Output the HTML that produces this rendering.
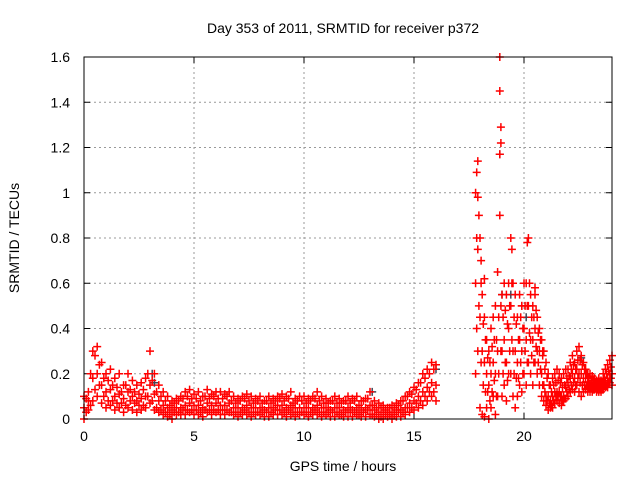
<!DOCTYPE html>
<html><head><meta charset="utf-8"><style>
body{margin:0;background:#fff}
svg{display:block;font-family:"Liberation Sans",sans-serif}
</style></head><body>
<svg id="chart" width="640" height="480" viewBox="0 0 640 480">
<rect width="640" height="480" fill="#fff"/>
<text x="343" y="33" font-size="14" text-anchor="middle">Day 353 of 2011, SRMTID for receiver p372</text>
<text x="343" y="471" font-size="14" text-anchor="middle">GPS time / hours</text>
<text transform="translate(19,238) rotate(-90)" font-size="14" text-anchor="middle">SRMTID / TECUs</text>
<g id="grid"></g>
<g id="ticks"></g>
<g id="marks"></g>
<rect x="84" y="57" width="528" height="362" fill="none" stroke="#000" stroke-width="1"/>
</svg>
<script>
const xTicks=[0,5,10,15,20];
const yTicks=[0,0.2,0.4,0.6,0.8,1,1.2,1.4,1.6];
const yTickLabels=["0","0.2","0.4","0.6","0.8","1","1.2","1.4","1.6"];
const quietTimes=[0,0.2,0.4,0.6,0.8,1,1.2,1.4,1.6,1.8,2,2.2,2.4,2.6,2.8,3,3.2,3.4,3.6,3.8,4,4.2,4.4,4.6,4.8,5,5.2,5.4,5.6,5.8,6,6.2,6.4,6.6,6.8,7,7.2,7.4,7.6,7.8,8,8.2,8.4,8.6,8.8,9,9.2,9.4,9.6,9.8,10,10.2,10.4,10.6,10.8,11,11.2,11.4,11.6,11.8,12,12.2,12.4,12.6,12.8,13,13.2,13.4,13.6,13.8,14,14.2,14.4,14.6,14.8,15,15.2,15.4,15.6,15.8,16];
const quietHi=[0.1,0.12,0.3,0.32,0.25,0.2,0.22,0.18,0.2,0.15,0.2,0.17,0.15,0.16,0.18,0.3,0.2,0.15,0.12,0.1,0.08,0.09,0.1,0.12,0.13,0.11,0.12,0.1,0.13,0.11,0.12,0.12,0.11,0.12,0.1,0.09,0.1,0.11,0.1,0.09,0.1,0.08,0.1,0.09,0.1,0.11,0.1,0.12,0.09,0.1,0.1,0.09,0.1,0.12,0.1,0.09,0.08,0.1,0.09,0.08,0.1,0.09,0.1,0.08,0.09,0.12,0.08,0.07,0.06,0.05,0.06,0.07,0.08,0.1,0.12,0.14,0.16,0.2,0.22,0.25,0.24];
const quietMid=[0.05,0.08,0.18,0.2,0.15,0.12,0.13,0.1,0.11,0.09,0.12,0.1,0.08,0.09,0.1,0.15,0.11,0.08,0.06,0.05,0.04,0.05,0.05,0.06,0.07,0.06,0.06,0.05,0.07,0.06,0.07,0.06,0.06,0.07,0.05,0.05,0.05,0.06,0.05,0.05,0.05,0.04,0.05,0.05,0.06,0.06,0.05,0.06,0.05,0.05,0.05,0.05,0.05,0.06,0.05,0.05,0.04,0.05,0.05,0.04,0.05,0.04,0.05,0.04,0.05,0.06,0.04,0.03,0.03,0.03,0.03,0.04,0.04,0.05,0.07,0.08,0.1,0.12,0.14,0.16,0.15];
const quietLo=[0,0.04,0.08,0.1,0.07,0.05,0.06,0.04,0.05,0.03,0.05,0.04,0.03,0.04,0.05,0.07,0.04,0.03,0.02,0.01,0,0.02,0.02,0.02,0.03,0.02,0.02,0.01,0.03,0.02,0.03,0.02,0.02,0.03,0.02,0.01,0.02,0.02,0.01,0.02,0.02,0.01,0.01,0.02,0.02,0.02,0.01,0.02,0.01,0.02,0.02,0.01,0.02,0.02,0.01,0.02,0.01,0.01,0.02,0.01,0.01,0.01,0.02,0.01,0.01,0.02,0.01,0,0,0.01,0,0.01,0.01,0.02,0.03,0.04,0.05,0.06,0.08,0.1,0.08];
const quietTimes2=[0.1,0.3,0.5,0.7,0.9,1.1,1.3,1.5,1.7,1.9,2.1,2.3,2.5,2.7,2.9,3.1,3.3,3.5,3.7,3.9,4.1,4.3,4.5,4.7,4.9,5.1,5.3,5.5,5.7,5.9,6.1,6.3,6.5,6.7,6.9,7.1,7.3,7.5,7.7,7.9,8.1,8.3,8.5,8.7,8.9,9.1,9.3,9.5,9.7,9.9,10.1,10.3,10.5,10.7,10.9,11.1,11.3,11.5,11.7,11.9,12.1,12.3,12.5,12.7,12.9,13.1,13.3,13.5,13.7,13.9,14.1,14.3,14.5,14.7,14.9,15.1,15.3,15.5,15.7,15.9];
const quietA2=[0.09,0.2,0.28,0.24,0.18,0.17,0.15,0.14,0.12,0.15,0.13,0.12,0.11,0.13,0.2,0.17,0.12,0.1,0.08,0.06,0.07,0.08,0.09,0.1,0.09,0.09,0.08,0.1,0.09,0.1,0.09,0.09,0.1,0.08,0.07,0.08,0.09,0.08,0.07,0.08,0.07,0.08,0.07,0.08,0.09,0.08,0.09,0.07,0.08,0.08,0.07,0.08,0.09,0.08,0.07,0.07,0.08,0.07,0.07,0.08,0.07,0.08,0.06,0.08,0.09,0.06,0.05,0.05,0.04,0.05,0.05,0.06,0.08,0.1,0.11,0.13,0.16,0.18,0.2,0.22];
const quietB2=[0.03,0.06,0.13,0.15,0.1,0.08,0.08,0.07,0.07,0.06,0.08,0.07,0.06,0.06,0.1,0.08,0.05,0.04,0.03,0.02,0.03,0.03,0.04,0.04,0.04,0.04,0.03,0.04,0.04,0.04,0.04,0.04,0.04,0.03,0.03,0.03,0.04,0.03,0.03,0.03,0.03,0.03,0.03,0.04,0.04,0.03,0.04,0.03,0.03,0.03,0.03,0.03,0.04,0.03,0.03,0.03,0.03,0.03,0.02,0.03,0.03,0.03,0.02,0.03,0.04,0.02,0.02,0.01,0.02,0.02,0.02,0.03,0.03,0.05,0.05,0.07,0.08,0.1,0.12,0.12];
const stormTimes=[17.8,17.9,18,18.1,18.2,18.3,18.4,18.5,18.6,18.7,18.8,18.9,19,19.1,19.2,19.3,19.4,19.5,19.6,19.7,19.8,19.9,20,20.1,20.2,20.3,20.4,20.5,20.6,20.7,20.8,20.9,21,21.1,21.2,21.3,21.4,21.5,21.6,21.7,21.8,21.9,22,22.1,22.2,22.3,22.4,22.5,22.6,22.7,22.8,22.9,23,23.1,23.2,23.3,23.4,23.5,23.6,23.7,23.8,23.9,24];
const stormHi=[1,1.14,0.8,0.55,0.45,0.35,0.3,0.4,0.45,0.5,0.65,1.6,0.55,0.6,0.55,0.6,0.8,0.6,0.55,0.45,0.55,0.5,0.6,0.6,0.8,0.55,0.5,0.55,0.45,0.4,0.35,0.3,0.25,0.2,0.15,0.18,0.2,0.22,0.2,0.18,0.2,0.22,0.22,0.25,0.28,0.25,0.3,0.32,0.28,0.25,0.22,0.2,0.2,0.19,0.18,0.17,0.18,0.17,0.2,0.22,0.24,0.26,0.28];
const stormMid=[0.6,0.75,0.45,0.3,0.25,0.2,0.15,0.2,0.25,0.2,0.3,1.45,0.3,0.35,0.25,0.4,0.5,0.3,0.3,0.25,0.35,0.3,0.4,0.35,0.5,0.35,0.35,0.4,0.3,0.3,0.2,0.15,0.1,0.1,0.08,0.1,0.12,0.12,0.12,0.1,0.1,0.14,0.16,0.18,0.2,0.18,0.22,0.2,0.2,0.18,0.18,0.16,0.15,0.15,0.15,0.14,0.15,0.14,0.16,0.17,0.18,0.2,0.2];
const stormLo=[0.2,0.3,0.05,0.02,0.01,0.05,0,0.05,0.1,0.02,0.1,0.9,0.1,0.15,0.08,0.2,0.2,0.1,0.05,0.1,0.15,0.12,0.2,0.15,0.25,0.2,0.15,0.25,0.2,0.15,0.1,0.08,0.06,0.04,0.05,0.05,0.07,0.08,0.07,0.06,0.08,0.09,0.1,0.12,0.13,0.12,0.15,0.12,0.1,0.12,0.13,0.12,0.12,0.12,0.13,0.12,0.12,0.12,0.13,0.14,0.14,0.16,0.15];
const stormTimes2=[17.85,17.95,18.05,18.15,18.25,18.35,18.45,18.55,18.65,18.75,18.85,18.95,19.05,19.15,19.25,19.35,19.45,19.55,19.65,19.75,19.85,19.95,20.05,20.15,20.25,20.35,20.45,20.55,20.65,20.75,20.85,20.95,21.05,21.15,21.25,21.35,21.45,21.55,21.65,21.75,21.85,21.95,22.05,22.15,22.25,22.35,22.45,22.55,22.65,22.75,22.85,22.95,23.05,23.15,23.25,23.35,23.45,23.55,23.65,23.75,23.85,23.95];
const stormA2=[0.8,0.9,0.6,0.42,0.35,0.27,0.25,0.32,0.35,0.35,0.45,0.5,0.45,0.48,0.42,0.5,0.6,0.45,0.42,0.35,0.45,0.4,0.5,0.5,0.6,0.45,0.45,0.48,0.38,0.35,0.28,0.22,0.18,0.15,0.12,0.15,0.16,0.17,0.16,0.14,0.15,0.18,0.19,0.22,0.24,0.22,0.26,0.26,0.24,0.22,0.2,0.18,0.17,0.17,0.16,0.16,0.16,0.16,0.18,0.2,0.21,0.23];
const stormB2=[0.4,0.5,0.25,0.15,0.12,0.12,0.08,0.12,0.17,0.1,0.2,0.3,0.2,0.25,0.17,0.3,0.35,0.2,0.18,0.18,0.25,0.2,0.3,0.25,0.38,0.28,0.25,0.32,0.25,0.22,0.15,0.12,0.08,0.07,0.06,0.08,0.1,0.1,0.1,0.08,0.09,0.12,0.13,0.15,0.16,0.15,0.18,0.16,0.15,0.15,0.15,0.14,0.14,0.13,0.14,0.13,0.13,0.13,0.15,0.15,0.16,0.18];
const outlierTimes=[18.95,18.95,18.9,17.85,17.9,18.05,20.15,20.5,19.45,19.9,18.2,20.85];
const outlierVals=[1.29,1.22,1.17,1.09,0.98,0.7,0.78,0.58,0.75,0.5,0.62,0.3];
const greyTimes=[3.1,3.2,18.9,19.4,20.1,22.6,16.0,13.1,19.0];
const greyVals=[0.2,0.16,1.17,0.55,0.45,0.27,0.22,0.12,0.55];

const X0=84,X1=612,Y0=419,Y1=57;
const xs=t=>X0+(t/24)*(X1-X0);
const ys=v=>Y0-(v/1.6)*(Y0-Y1);
const NS="http://www.w3.org/2000/svg";
const grid=document.getElementById('grid'),ticks=document.getElementById('ticks'),marks=document.getElementById('marks');
function mk(tag,attrs,parent){const e=document.createElementNS(NS,tag);for(const k in attrs)e.setAttribute(k,attrs[k]);parent.appendChild(e);return e;}
xTicks.forEach(t=>{
  const x=xs(t);
  if(t>0){const g=mk('line',{x1:x,x2:x,y1:Y1,y2:Y0,stroke:'#999','stroke-dasharray':'2,3'},grid);
  
  }
  mk('line',{x1:x,x2:x,y1:Y0,y2:Y0-6,stroke:'#000'},ticks);
  mk('line',{x1:x,x2:x,y1:Y1,y2:Y1+6,stroke:'#000'},ticks);
  const l=mk('text',{x:x,y:Y0+22,'font-size':14,'text-anchor':'middle'},ticks);
  l.textContent=String(t);
  
  
});
yTicks.forEach((v,i)=>{
  const y=ys(v);
  if(v>0&&v<1.6){const g=mk('line',{x1:X0,x2:X1,y1:y,y2:y,stroke:'#999','stroke-dasharray':'2,3'},grid);
  
  }
  mk('line',{x1:X0,x2:X0+6,y1:y,y2:y,stroke:'#000'},ticks);
  mk('line',{x1:X1,x2:X1-6,y1:y,y2:y,stroke:'#000'},ticks);
  const l=mk('text',{x:X0-14,y:y+5,'font-size':14,'text-anchor':'end'},ticks);
  l.textContent=yTickLabels[i];
  
  
});
function plus(t,v,color){
  const x=xs(t),y=ys(v);
  const p=mk('path',{d:`M${x-4},${y}h8M${x},${y-4}v8`,stroke:color,'stroke-width':1.5,fill:'none'},marks);
  
  
}
greyTimes.forEach((t,i)=>plus(t,greyVals[i],'#445'));
[quietHi,quietMid,quietLo].forEach(arr=>quietTimes.forEach((t,i)=>plus(t,arr[i],'#f00')));
[quietA2,quietB2].forEach(arr=>quietTimes2.forEach((t,i)=>plus(t,arr[i],'#f00')));
[stormHi,stormMid,stormLo].forEach(arr=>stormTimes.forEach((t,i)=>plus(t,arr[i],'#f00')));
[stormA2,stormB2].forEach(arr=>stormTimes2.forEach((t,i)=>plus(t,arr[i],'#f00')));
outlierTimes.forEach((t,i)=>plus(t,outlierVals[i],'#f00'));
</script>
</body></html>
